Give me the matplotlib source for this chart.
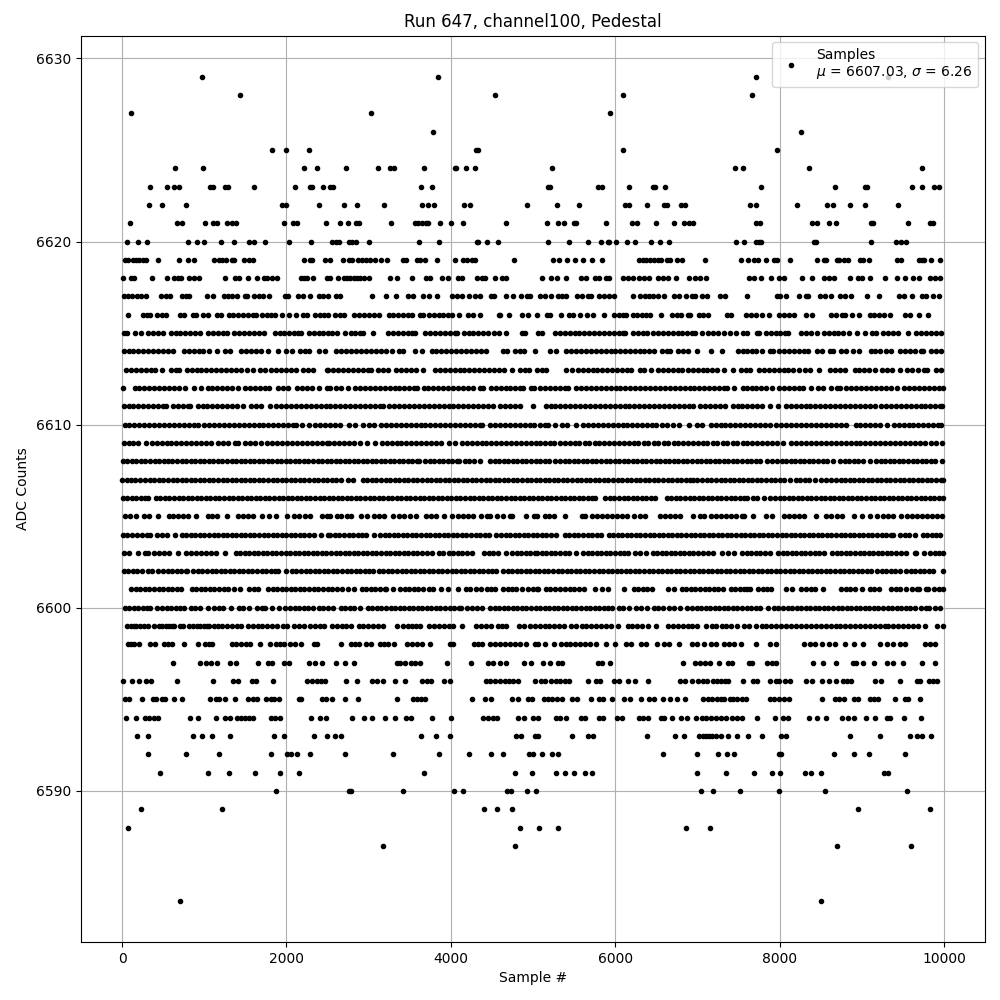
import matplotlib
matplotlib.use("Agg")
import matplotlib.pyplot as plt

title = "Run 647, channel100, Pedestal"
xlabel = "Sample #"
ylabel = "ADC Counts"
legend_label = "Samples\n$\\mu$ = 6607.03, $\\sigma$ = 6.26"

s6629 = [974, 3848, 7716, 9315]
s6628 = [1435, 4537, 6091, 7667]
s6627 = [113, 3034, 5934]
s6626 = [3786, 8262]
s6625 = [1822, 1992, 2272, 4310, 4330, 6091, 7970]
s6624 = [646, 986, 2210, 2367, 2719, 3119, 3260, 3313, 3676, 4052, 4068, 4186, 4295, 5230, 7460, 7558, 8358, 9727]
s6623 = [343, 549, 634, 687, 1067, 1107, 1248, 1289, 1604, 2100, 2290, 2315, 2440, 2533, 2570, 3640, 3773, 5182, 5210, 5792, 5840, 6164, 6463, 6487, 6600, 7776, 8672, 9033, 9065, 9606, 9727, 9880, 9937]
s6622 = [331, 489, 780, 1947, 1989, 2393, 2695, 2854, 3192, 3652, 3717, 3798, 4161, 4234, 4925, 5291, 5558, 6124, 6172, 6382, 6596, 6629, 6798, 6847, 7643, 7707, 8212, 8576, 8650, 8855, 9037, 9436]
s6621 = [101, 671, 727, 1010, 1107, 1151, 1277, 1337, 1386, 1972, 2077, 2125, 2477, 2646, 2743, 2848, 2881, 3277, 3563, 3604, 3644, 3693, 3717, 3863, 4004, 4149, 4670, 5170, 5303, 5376, 5497, 5517, 5885, 6200, 6265, 6491, 6709, 6831, 6895, 6952, 7717, 7757, 8394, 8459, 8600, 8685, 9113, 9137, 9560, 9830, 9867]
s6620 = [65, 198, 307, 804, 909, 998, 1200, 1362, 1544, 1604, 1738, 2029, 2296, 2549, 2598, 2638, 2755, 2796, 2840, 3000, 3618, 3861, 4313, 4335, 4440, 4573, 5182, 5437, 5667, 5825, 5909, 5930, 6015, 6144, 6237, 6431, 6540, 6649, 7473, 7570, 7717, 7750, 7774, 8414, 8447, 9109, 9412, 9473, 9533]
s6619 = [40, 69, 129, 170, 210, 259, 291, 441, 695, 796, 877, 1119, 1180, 1221, 1261, 1334, 1362, 1484, 1544, 1597, 2211, 2284, 2312, 2474, 2527, 2685, 2757, 2798, 2866, 2919, 2967, 3020, 3077, 3153, 3222, 3416, 3457, 3586, 3626, 3687, 3837, 4055, 4152, 4193, 4253, 4294, 4771, 5243, 5316, 5412, 5505, 5606, 5716, 5837, 6294, 6335, 6375, 6423, 6476, 6516, 6557, 6625, 6670, 6751, 6811, 7097, 7535, 7620, 7693, 7741, 7838, 7931, 7963, 8132, 8455, 8536, 8568, 8697, 8717, 8786, 8826, 8984, 9020, 9089, 9432, 9473, 9695, 9727, 9756, 9836, 9957]
s6618 = [8, 109, 150, 368, 550, 635, 675, 716, 817, 877, 938, 1253, 1374, 1423, 1532, 1645, 1726, 1766, 1827, 1880, 2171, 2212, 2252, 2321, 2494, 2535, 2624, 2697, 2737, 2778, 2818, 2858, 2899, 2939, 3000, 3255, 3340, 3533, 3700, 3748, 3889, 3970, 4092, 4132, 4313, 4374, 4415, 4540, 4625, 4665, 5110, 5223, 5291, 5396, 5586, 5647, 5748, 5801, 5889, 5930, 6091, 6152, 6213, 6285, 6354, 6415, 6516, 6577, 6637, 6738, 6899, 6968, 7028, 7101, 7627, 7687, 7776, 7897, 7990, 8051, 8273, 8394, 8536, 8597, 8665, 8861, 8954, 9000, 9103, 9285, 9427, 9528, 9629, 9690, 9831, 9892, 9957]
s6617 = [28, 75, 125, 180, 235, 290, 475, 530, 584, 725, 780, 819, 1030, 1102, 1235, 1290, 1340, 1398, 1500, 1522, 1607, 1660, 1720, 1789, 1987, 2015, 2140, 2200, 2290, 2395, 2450, 2505, 2600, 2650, 3040, 3206, 3327, 3473, 3540, 3660, 3740, 3836, 4010, 4070, 4130, 4225, 4295, 4353, 4486, 4530, 4675, 4760, 4850, 4930, 4960, 5085, 5150, 5220, 5300, 5350, 5395, 5540, 5595, 5670, 5710, 5805, 5860, 5920, 5980, 6213, 6305, 6360, 6410, 6465, 6519, 6590, 6710, 6770, 6860, 6940, 6972, 7050, 7113, 7277, 7340, 7608, 7970, 8010, 8072, 8230, 8320, 8340, 8490, 8550, 8620, 8730, 8790, 8872, 9064, 9209, 9450, 9510, 9610, 9735, 9780, 9870, 9940]
s6616 = [69, 250, 300, 340, 420, 480, 535, 700, 750, 860, 900, 990, 1045, 1160, 1200, 1295, 1350, 1410, 1470, 1530, 1590, 1635, 1705, 1760, 1810, 1860, 1950, 2030, 2114, 2205, 2255, 2350, 2405, 2460, 2510, 2585, 2650, 2705, 2820, 2880, 2940, 3000, 3060, 3130, 3245, 3300, 3360, 3420, 3480, 3528, 3630, 3665, 3740, 3795, 3850, 3910, 3960, 4012, 4103, 4204, 4275, 4355, 4580, 4600, 4710, 4870, 4940, 5050, 5165, 5205, 5340, 5435, 5490, 5575, 5660, 5730, 5858, 5990, 6045, 6100, 6130, 6215, 6270, 6330, 6380, 6418, 6553, 6690, 6750, 6798, 6885, 6915, 7018, 7070, 7125, 7365, 7405, 7595, 7650, 7710, 7780, 7875, 7995, 8050, 8110, 8175, 8320, 8393, 8630, 8690, 8760, 8800, 8885, 8960, 9095, 9150, 9210, 9268, 9343, 9530, 9590, 9690, 9800]
s6615 = [19, 65, 160, 230, 320, 380, 440, 500, 590, 650, 710, 770, 830, 890, 950, 1040, 1110, 1170, 1230, 1280, 1360, 1420, 1480, 1540, 1600, 1660, 1728, 1860, 1920, 1975, 2035, 2090, 2140, 2180, 2270, 2330, 2390, 2450, 2505, 2560, 2620, 2710, 2780, 2828, 2900, 2937, 3050, 3235, 3295, 3355, 3415, 3475, 3530, 3568, 3690, 3750, 3810, 3870, 3930, 3990, 4050, 4080, 4155, 4215, 4275, 4335, 4395, 4453, 4525, 4590, 4676, 4860, 4898, 5062, 5105, 5265, 5325, 5385, 5445, 5505, 5560, 5620, 5678, 5746, 5806, 5866, 5926, 5986, 6046, 6100, 6123, 6215, 6275, 6335, 6386, 6458, 6518, 6578, 6638, 6698, 6758, 6818, 6878, 6940, 6972, 7052, 7126, 7194, 7254, 7328, 7396, 7465, 7560, 7600, 7720, 7752, 7832, 7890, 7950, 8010, 8070, 8104, 8265, 8325, 8385, 8460, 8536, 8596, 8656, 8716, 8771, 8840, 8944, 9042, 9126, 9175, 9260, 9320, 9380, 9438, 9561, 9660, 9720, 9780, 9840, 9900, 9964]
s6614 = [18, 78, 138, 198, 258, 318, 378, 438, 498, 558, 617, 757, 817, 877, 937, 980, 1059, 1160, 1251, 1312, 1449, 1509, 1569, 1629, 1689, 1777, 1896, 1995, 2068, 2160, 2220, 2274, 2400, 2468, 2605, 2665, 2725, 2785, 2845, 2905, 2965, 3025, 3085, 3145, 3212, 3278, 3373, 3414, 3563, 3645, 3765, 3825, 3885, 3945, 4005, 4065, 4125, 4185, 4245, 4305, 4365, 4425, 4640, 4688, 4780, 4840, 4890, 5021, 5205, 5274, 5403, 5463, 5523, 5583, 5643, 5703, 5763, 5823, 5883, 5943, 6003, 6063, 6123, 6183, 6243, 6303, 6345, 6413, 6467, 6567, 6625, 6669, 6769, 6829, 6883, 6994, 7164, 7297, 7489, 7549, 7598, 7658, 7718, 7789, 7881, 7922, 7994, 8054, 8114, 8174, 8234, 8294, 8347, 8455, 8520, 8609, 8650, 8742, 8812, 8890, 8967, 9106, 9166, 9226, 9290, 9357, 9470, 9530, 9590, 9650, 9720, 9750, 9842, 9902, 9965]
s6613 = [46, 106, 166, 226, 286, 346, 406, 491, 592, 652, 697, 786, 846, 906, 966, 1026, 1086, 1146, 1206, 1266, 1326, 1386, 1446, 1514, 1592, 1675, 1737, 1817, 1877, 1937, 1997, 2057, 2113, 2205, 2265, 2323, 2490, 2510, 2570, 2630, 2690, 2750, 2810, 2870, 2930, 2990, 3030, 3119, 3179, 3232, 3333, 3393, 3453, 3513, 3573, 3657, 3806, 3866, 3926, 3986, 4046, 4106, 4166, 4226, 4286, 4346, 4406, 4466, 4526, 4586, 4647, 4750, 4841, 4901, 4951, 5045, 5111, 5161, 5407, 5476, 5544, 5604, 5664, 5724, 5784, 5844, 5904, 5964, 6024, 6084, 6144, 6196, 6296, 6356, 6434, 6519, 6579, 6639, 6699, 6759, 6810, 6882, 6942, 7002, 7062, 7122, 7182, 7235, 7325, 7431, 7525, 7585, 7639, 7748, 7808, 7868, 7928, 7988, 8048, 8108, 8168, 8233, 8305, 8365, 8480, 8609, 8669, 8729, 8800, 8912, 8972, 9032, 9092, 9163, 9248, 9308, 9368, 9463, 9551, 9611, 9681, 9761, 9794, 9902, 9965]
s6612 = [16, 151, 211, 271, 331, 391, 451, 511, 571, 631, 691, 766, 879, 956, 1040, 1100, 1160, 1220, 1280, 1340, 1413, 1493, 1553, 1613, 1673, 1733, 1789, 1898, 1958, 2015, 2128, 2188, 2248, 2308, 2396, 2490, 2533, 2605, 2666, 2750, 2835, 2895, 2955, 3015, 3075, 3135, 3195, 3255, 3315, 3375, 3435, 3495, 3555, 3584, 3668, 3728, 3788, 3848, 3908, 3968, 4028, 4088, 4148, 4208, 4271, 4352, 4389, 4485, 4545, 4605, 4665, 4725, 4785, 4845, 4882, 4978, 5015, 5083, 5143, 5203, 5263, 5323, 5383, 5428, 5524, 5584, 5644, 5704, 5764, 5824, 5884, 5944, 6004, 6064, 6124, 6184, 6244, 6304, 6364, 6424, 6484, 6544, 6604, 6664, 6724, 6784, 6844, 6904, 6964, 7024, 7084, 7144, 7204, 7264, 7324, 7356, 7447, 7550, 7600, 7658, 7718, 7778, 7838, 7902, 7990, 8050, 8110, 8170, 8230, 8290, 8387, 8467, 8527, 8621, 8698, 8731, 8811, 8871, 8931, 8991, 9051, 9111, 9171, 9231, 9291, 9351, 9430, 9518, 9578, 9638, 9698, 9758, 9818, 9878, 9938, 9990]
s6611 = [18, 78, 138, 198, 258, 318, 378, 438, 498, 536, 616, 676, 736, 796, 827, 919, 979, 1039, 1099, 1159, 1219, 1279, 1339, 1399, 1474, 1574, 1634, 1694, 1797, 1877, 1937, 1997, 2057, 2117, 2177, 2237, 2297, 2357, 2417, 2477, 2535, 2595, 2655, 2715, 2775, 2835, 2895, 2955, 3015, 3075, 3135, 3172, 3252, 3312, 3372, 3432, 3492, 3552, 3612, 3672, 3732, 3792, 3852, 3912, 3972, 4032, 4092, 4152, 4212, 4272, 4332, 4392, 4452, 4514, 4598, 4658, 4718, 4778, 4842, 5001, 5154, 5213, 5273, 5333, 5393, 5453, 5513, 5573, 5633, 5693, 5753, 5813, 5873, 5933, 5993, 6053, 6113, 6173, 6233, 6293, 6353, 6413, 6473, 6533, 6593, 6653, 6713, 6773, 6833, 6893, 6952, 7032, 7092, 7152, 7212, 7272, 7336, 7428, 7488, 7548, 7608, 7668, 7728, 7789, 7881, 7975, 8075, 8135, 8195, 8255, 8315, 8375, 8435, 8495, 8555, 8615, 8675, 8735, 8795, 8855, 8915, 8975, 9035, 9095, 9155, 9235, 9295, 9355, 9415, 9475, 9535, 9595, 9655, 9715, 9775, 9835, 9895, 9955, 9980]
s6610 = [30, 90, 150, 210, 270, 330, 390, 450, 510, 570, 630, 690, 750, 810, 870, 928, 1000, 1060, 1120, 1180, 1240, 1300, 1360, 1420, 1480, 1540, 1600, 1660, 1720, 1780, 1840, 1900, 1960, 2020, 2080, 2113, 2193, 2270, 2350, 2410, 2470, 2535, 2595, 2655, 2755, 2835, 2929, 3009, 3071, 3151, 3211, 3271, 3331, 3391, 3451, 3511, 3571, 3631, 3691, 3751, 3811, 3871, 3931, 3991, 4051, 4111, 4171, 4231, 4291, 4351, 4385, 4477, 4537, 4597, 4657, 4717, 4777, 4837, 4897, 4957, 5017, 5081, 5141, 5185, 5268, 5354, 5414, 5525, 5609, 5669, 5729, 5789, 5849, 5909, 5969, 6029, 6089, 6149, 6209, 6269, 6329, 6389, 6449, 6495, 6567, 6628, 6699, 6772, 6893, 6992, 7053, 7161, 7221, 7281, 7341, 7401, 7461, 7521, 7581, 7640, 7700, 7760, 7820, 7882, 7962, 8022, 8082, 8142, 8202, 8262, 8322, 8382, 8442, 8502, 8562, 8622, 8682, 8742, 8812, 8924, 8984, 9044, 9104, 9164, 9224, 9309, 9389, 9449, 9509, 9569, 9629, 9689, 9749, 9809, 9869, 9929, 9964]
s6609 = [18, 78, 138, 198, 289, 361, 421, 481, 541, 601, 661, 721, 781, 841, 901, 961, 1021, 1078, 1170, 1230, 1292, 1372, 1413, 1501, 1561, 1621, 1696, 1768, 1828, 1888, 1948, 2008, 2068, 2128, 2188, 2248, 2308, 2368, 2428, 2488, 2520, 2580, 2640, 2700, 2760, 2820, 2889, 2981, 3083, 3159, 3219, 3279, 3339, 3399, 3459, 3519, 3579, 3639, 3699, 3759, 3819, 3879, 3972, 4051, 4133, 4193, 4253, 4313, 4373, 4433, 4493, 4553, 4613, 4673, 4733, 4793, 4853, 4913, 4973, 5033, 5090, 5142, 5207, 5261, 5329, 5383, 5447, 5508, 5561, 5628, 5682, 5749, 5802, 5868, 5921, 5988, 6041, 6109, 6163, 6228, 6281, 6349, 6402, 6468, 6522, 6588, 6641, 6709, 6762, 6829, 6881, 6948, 7001, 7069, 7122, 7188, 7241, 7309, 7361, 7428, 7482, 7549, 7602, 7665, 7725, 7785, 7845, 7905, 7963, 8045, 8144, 8204, 8264, 8324, 8384, 8444, 8504, 8564, 8624, 8684, 8744, 8804, 8864, 8924, 8984, 9044, 9104, 9164, 9224, 9284, 9344, 9404, 9464, 9524, 9584, 9644, 9704, 9770, 9842, 9902, 9976]
s6608 = [5, 61, 118, 172, 231, 284, 342, 397, 451, 508, 563, 612, 671, 728, 779, 836, 893, 947, 1002, 1058, 1112, 1169, 1221, 1278, 1334, 1386, 1443, 1498, 1552, 1609, 1661, 1718, 1772, 1829, 1881, 1938, 1992, 2047, 2103, 2158, 2213, 2268, 2322, 2379, 2431, 2488, 2542, 2598, 2653, 2708, 2763, 2818, 2872, 2929, 2981, 3038, 3092, 3147, 3203, 3258, 3312, 3368, 3421, 3478, 3532, 3587, 3618, 3685, 3741, 3796, 3852, 3907, 3962, 4018, 4073, 4100, 4170, 4226, 4281, 4360, 4477, 4532, 4588, 4643, 4698, 4754, 4809, 4864, 4920, 4975, 5030, 5085, 5141, 5193, 5273, 5328, 5384, 5439, 5494, 5550, 5605, 5661, 5716, 5771, 5827, 5882, 5937, 5993, 6048, 6103, 6159, 6214, 6269, 6325, 6380, 6436, 6491, 6546, 6602, 6657, 6712, 6768, 6823, 6878, 6934, 6989, 7044, 7100, 7155, 7211, 7266, 7321, 7377, 7432, 7487, 7543, 7598, 7653, 7709, 7764, 7841, 7913, 7968, 8024, 8079, 8134, 8190, 8245, 8300, 8356, 8411, 8466, 8522, 8577, 8650, 8738, 8793, 8849, 8904, 8959, 9015, 9103, 9175, 9230, 9286, 9341, 9396, 9452, 9507, 9562, 9618, 9673, 9729, 9784, 9839, 9895, 9978]
s6607 = [0, 54, 109, 163, 220, 282, 337, 392, 448, 503, 558, 614, 669, 724, 780, 835, 890, 946, 1001, 1056, 1112, 1167, 1222, 1278, 1333, 1388, 1444, 1499, 1554, 1610, 1665, 1720, 1776, 1831, 1886, 1942, 1997, 2052, 2108, 2163, 2218, 2274, 2329, 2384, 2440, 2495, 2550, 2606, 2658, 2745, 2815, 2929, 2984, 3040, 3095, 3150, 3206, 3261, 3316, 3372, 3427, 3482, 3538, 3593, 3648, 3704, 3759, 3814, 3870, 3925, 3980, 4036, 4091, 4146, 4202, 4257, 4312, 4368, 4423, 4478, 4534, 4589, 4644, 4700, 4755, 4810, 4866, 4921, 4976, 5032, 5087, 5142, 5198, 5253, 5308, 5364, 5419, 5474, 5530, 5585, 5640, 5696, 5751, 5806, 5862, 5917, 5972, 6028, 6083, 6138, 6194, 6249, 6304, 6360, 6415, 6470, 6526, 6581, 6636, 6692, 6747, 6802, 6858, 6913, 6944, 7000, 7060, 7115, 7170, 7226, 7281, 7336, 7392, 7447, 7502, 7558, 7613, 7668, 7724, 7779, 7834, 7890, 7945, 8000, 8056, 8124, 8196, 8252, 8307, 8362, 8427, 8500, 8570, 8630, 8685, 8741, 8796, 8851, 8907, 8962, 9017, 9073, 9128, 9183, 9239, 9294, 9349, 9405, 9460, 9515, 9571, 9626, 9681, 9737, 9792, 9847, 9903, 9958, 9984]
s6606 = [5, 61, 116, 172, 227, 282, 321, 410, 465, 521, 576, 631, 687, 742, 797, 853, 908, 963, 1019, 1074, 1129, 1185, 1240, 1295, 1351, 1406, 1461, 1517, 1572, 1627, 1683, 1738, 1793, 1849, 1904, 1959, 2015, 2070, 2125, 2181, 2236, 2291, 2347, 2402, 2457, 2513, 2568, 2623, 2679, 2734, 2789, 2845, 2900, 2955, 3011, 3066, 3121, 3177, 3232, 3287, 3343, 3398, 3453, 3509, 3564, 3619, 3675, 3730, 3785, 3841, 3896, 3951, 4007, 4062, 4117, 4173, 4228, 4283, 4339, 4394, 4449, 4505, 4560, 4615, 4671, 4726, 4781, 4837, 4892, 4947, 5003, 5058, 5113, 5169, 5224, 5279, 5335, 5390, 5445, 5501, 5556, 5611, 5667, 5722, 5759, 5880, 5935, 5991, 6046, 6101, 6157, 6212, 6267, 6323, 6378, 6433, 6479, 6628, 6684, 6739, 6794, 6850, 6905, 6960, 7016, 7071, 7126, 7182, 7237, 7292, 7348, 7403, 7458, 7514, 7569, 7600, 7671, 7726, 7813, 7889, 7944, 8000, 8055, 8110, 8166, 8221, 8276, 8332, 8387, 8442, 8498, 8553, 8608, 8664, 8719, 8774, 8830, 8885, 8940, 8996, 9051, 9106, 9162, 9217, 9272, 9328, 9383, 9438, 9494, 9549, 9604, 9660, 9715, 9770, 9826, 9881, 9936, 9984]
s6605 = [38, 98, 172, 272, 332, 435, 566, 624, 684, 744, 804, 900, 1040, 1100, 1160, 1271, 1412, 1472, 1532, 1592, 1708, 1792, 1878, 2005, 2092, 2152, 2221, 2284, 2435, 2495, 2533, 2617, 2666, 2734, 2788, 2908, 2978, 3062, 3122, 3182, 3293, 3373, 3433, 3503, 3580, 3697, 3757, 3817, 3920, 4010, 4093, 4153, 4213, 4273, 4369, 4445, 4482, 4564, 4637, 4720, 4740, 4912, 5011, 5052, 5140, 5200, 5260, 5387, 5597, 5638, 5718, 5778, 5838, 5898, 5958, 6018, 6078, 6138, 6228, 6304, 6358, 6547, 6607, 6667, 6727, 6787, 6944, 7032, 7085, 7165, 7225, 7285, 7345, 7405, 7465, 7546, 7570, 7681, 7840, 7902, 8051, 8111, 8171, 8231, 8291, 8444, 8560, 8621, 8702, 8759, 8900, 9001, 9094, 9188, 9260, 9320, 9380, 9479, 9551, 9611, 9671, 9731, 9791, 9851, 9911, 9976]
s6604 = [5, 65, 125, 185, 245, 305, 342, 422, 482, 542, 645, 725, 781, 836, 891, 947, 1002, 1057, 1113, 1168, 1223, 1279, 1334, 1389, 1445, 1500, 1555, 1611, 1666, 1721, 1777, 1832, 1887, 1943, 1998, 2053, 2109, 2164, 2219, 2275, 2335, 2415, 2505, 2535, 2590, 2645, 2701, 2756, 2811, 2867, 2922, 2962, 3060, 3139, 3194, 3250, 3305, 3360, 3416, 3471, 3526, 3582, 3637, 3692, 3748, 3803, 3858, 3914, 3969, 4024, 4080, 4135, 4190, 4246, 4301, 4356, 4412, 4465, 4554, 4609, 4665, 4720, 4775, 4831, 4886, 4941, 4997, 5052, 5107, 5163, 5218, 5282, 5387, 5442, 5498, 5553, 5608, 5664, 5719, 5774, 5828, 5920, 5975, 6031, 6086, 6141, 6197, 6252, 6307, 6363, 6418, 6473, 6529, 6584, 6639, 6695, 6750, 6805, 6861, 6916, 6971, 7027, 7082, 7137, 7193, 7248, 7303, 7359, 7414, 7469, 7525, 7580, 7635, 7691, 7746, 7801, 7857, 7912, 7967, 8023, 8078, 8133, 8189, 8244, 8299, 8355, 8410, 8465, 8521, 8576, 8631, 8687, 8742, 8797, 8853, 8908, 8963, 9019, 9074, 9129, 9185, 9240, 9295, 9351, 9378, 9466, 9521, 9577, 9648, 9741, 9796, 9852, 9907, 9952]
s6603 = [18, 79, 198, 280, 310, 394, 454, 514, 574, 685, 782, 842, 902, 962, 1022, 1082, 1142, 1251, 1380, 1435, 1491, 1546, 1601, 1657, 1712, 1767, 1823, 1878, 1933, 1989, 2044, 2099, 2155, 2210, 2265, 2321, 2376, 2431, 2487, 2542, 2597, 2653, 2708, 2763, 2819, 2874, 2929, 2985, 3040, 3095, 3151, 3206, 3261, 3317, 3372, 3427, 3483, 3538, 3593, 3649, 3704, 3770, 3858, 3900, 3972, 4027, 4083, 4138, 4193, 4263, 4404, 4459, 4515, 4570, 4668, 4748, 4803, 4859, 4914, 4969, 5025, 5052, 5107, 5163, 5218, 5273, 5329, 5384, 5439, 5525, 5609, 5664, 5720, 5775, 5830, 5886, 5941, 5996, 6052, 6107, 6155, 6244, 6299, 6374, 6454, 6509, 6565, 6620, 6675, 6731, 6786, 6841, 6897, 6952, 7007, 7063, 7126, 7184, 7295, 7377, 7447, 7537, 7599, 7654, 7710, 7765, 7820, 7882, 7982, 8037, 8093, 8148, 8203, 8259, 8314, 8369, 8425, 8480, 8540, 8641, 8696, 8752, 8807, 8862, 8918, 8973, 9028, 9084, 9139, 9194, 9250, 9305, 9360, 9416, 9471, 9539, 9648, 9660, 9751, 9830, 9885, 9941, 9992]
s6602 = [18, 74, 129, 184, 240, 321, 362, 442, 497, 553, 608, 663, 719, 774, 795, 867, 922, 978, 1033, 1088, 1144, 1199, 1254, 1310, 1365, 1420, 1476, 1531, 1586, 1642, 1697, 1752, 1808, 1863, 1898, 2000, 2067, 2122, 2178, 2233, 2288, 2344, 2399, 2454, 2510, 2565, 2620, 2676, 2731, 2786, 2842, 2897, 2952, 3008, 3050, 3123, 3178, 3234, 3289, 3344, 3400, 3455, 3510, 3566, 3621, 3676, 3732, 3787, 3842, 3898, 3953, 4008, 4064, 4119, 4174, 4230, 4285, 4340, 4396, 4451, 4506, 4554, 4635, 4690, 4746, 4801, 4856, 4912, 4967, 5022, 5078, 5133, 5188, 5244, 5299, 5354, 5410, 5465, 5520, 5576, 5631, 5686, 5742, 5797, 5852, 5908, 5963, 6018, 6074, 6129, 6184, 6240, 6295, 6350, 6406, 6461, 6516, 6572, 6627, 6682, 6738, 6793, 6848, 6904, 6959, 7014, 7070, 7125, 7180, 7236, 7291, 7346, 7402, 7457, 7512, 7568, 7623, 7678, 7734, 7789, 7844, 7900, 7955, 8010, 8066, 8121, 8176, 8232, 8287, 8342, 8398, 8453, 8508, 8564, 8619, 8674, 8730, 8785, 8840, 8896, 8951, 9006, 9062, 9107, 9187, 9242, 9298, 9353, 9408, 9463, 9539, 9594, 9650, 9705, 9760, 9816, 9871, 9986]
s6601 = [111, 166, 222, 277, 332, 388, 443, 498, 554, 609, 664, 718, 847, 902, 958, 1013, 1068, 1124, 1179, 1234, 1290, 1361, 1436, 1546, 1601, 1648, 1776, 1831, 1887, 1942, 1997, 2053, 2108, 2163, 2219, 2274, 2329, 2385, 2440, 2505, 2560, 2615, 2674, 2750, 2820, 2916, 2971, 3027, 3082, 3137, 3193, 3212, 3300, 3385, 3440, 3496, 3551, 3606, 3657, 3729, 3778, 3880, 3960, 4091, 4190, 4235, 4311, 4364, 4437, 4492, 4534, 4635, 4690, 4746, 4789, 4870, 4942, 4998, 5052, 5060, 5152, 5207, 5262, 5334, 5389, 5445, 5500, 5555, 5626, 5759, 5840, 5910, 6104, 6223, 6278, 6334, 6389, 6446, 6648, 6721, 6810, 6865, 6921, 6976, 7031, 7087, 7142, 7197, 7253, 7308, 7404, 7459, 7515, 7570, 7599, 7639, 7739, 7794, 7850, 7890, 8083, 8153, 8265, 8320, 8376, 8431, 8528, 8750, 8805, 8861, 8916, 9001, 9094, 9149, 9204, 9357, 9412, 9468, 9539, 9611, 9666, 9701, 9781, 9810, 9882, 9937, 9984]
s6600 = [30, 85, 141, 196, 251, 307, 334, 430, 485, 541, 596, 651, 707, 754, 838, 893, 949, 1041, 1121, 1176, 1232, 1320, 1421, 1476, 1547, 1643, 1698, 1737, 1825, 1906, 1987, 2042, 2098, 2153, 2208, 2264, 2323, 2395, 2450, 2505, 2565, 2658, 2713, 2769, 2824, 2897, 2989, 3044, 3100, 3155, 3210, 3266, 3321, 3376, 3432, 3487, 3542, 3598, 3653, 3708, 3764, 3819, 3874, 3930, 3985, 4040, 4096, 4122, 4202, 4257, 4313, 4385, 4477, 4532, 4588, 4643, 4698, 4754, 4809, 4864, 4920, 4975, 5030, 5086, 5141, 5196, 5252, 5307, 5362, 5418, 5473, 5528, 5584, 5639, 5694, 5750, 5805, 5860, 5916, 5961, 6041, 6097, 6163, 6256, 6311, 6386, 6466, 6521, 6576, 6656, 6711, 6782, 6878, 6933, 6989, 7044, 7099, 7155, 7210, 7265, 7321, 7376, 7431, 7487, 7542, 7598, 7653, 7708, 7764, 7853, 7930, 7985, 8041, 8096, 8151, 8207, 8262, 8317, 8373, 8428, 8483, 8539, 8594, 8649, 8705, 8760, 8815, 8871, 8926, 8981, 9037, 9092, 9147, 9203, 9258, 9313, 9369, 9424, 9479, 9535, 9590, 9648, 9721, 9776, 9815, 9895, 9952]
s6599 = [60, 105, 150, 170, 220, 270, 310, 390, 453, 490, 530, 570, 610, 630, 700, 740, 820, 860, 910, 950, 1000, 1030, 1060, 1120, 1170, 1220, 1277, 1340, 1400, 1450, 1530, 1590, 1650, 1700, 1760, 1820, 1880, 1960, 2010, 2090, 2150, 2210, 2283, 2350, 2410, 2460, 2560, 2620, 2680, 2730, 2790, 2880, 2930, 2990, 3050, 3110, 3170, 3350, 3420, 3480, 3530, 3580, 3630, 3740, 3800, 3860, 3920, 3980, 4030, 4140, 4310, 4370, 4430, 4490, 4570, 4620, 4670, 4830, 4890, 4960, 5020, 5080, 5140, 5200, 5260, 5320, 5380, 5465, 5526, 5590, 5650, 5710, 5770, 5830, 5890, 5950, 6031, 6152, 6210, 6270, 6330, 6400, 6496, 6637, 6700, 6760, 6820, 6880, 6940, 7000, 7101, 7174, 7230, 7303, 7353, 7410, 7480, 7566, 7627, 7717, 7780, 7840, 7900, 7960, 8020, 8080, 8140, 8200, 8260, 8320, 8380, 8440, 8500, 8560, 8620, 8680, 8740, 8798, 8859, 8920, 8980, 9040, 9100, 9160, 9220, 9285, 9318, 9380, 9440, 9500, 9560, 9620, 9680, 9763, 9913, 9993]
s6598 = [69, 109, 150, 210, 344, 400, 513, 554, 602, 758, 925, 1006, 1058, 1099, 1333, 1382, 1442, 1511, 1552, 1677, 1794, 1875, 1927, 1967, 2048, 2109, 2178, 2331, 2371, 2658, 2784, 2838, 2878, 2964, 3026, 3139, 3188, 3240, 3313, 3471, 3524, 3584, 3645, 3749, 3988, 4028, 4279, 4331, 4384, 4481, 4533, 4594, 4654, 4715, 4776, 4836, 4917, 5021, 5061, 5142, 5251, 5344, 5396, 5445, 5505, 5566, 5627, 5687, 5768, 5889, 6002, 6132, 6192, 6313, 6374, 6503, 6596, 6657, 6778, 6940, 7000, 7081, 7162, 7222, 7323, 7384, 7445, 7525, 7707, 7889, 7950, 8293, 8374, 8434, 8515, 8596, 8677, 8798, 8899, 9012, 9222, 9303, 9384, 9465, 9525, 9768, 9829, 9889]
s6597 = [622, 945, 1018, 1079, 1151, 1309, 1382, 1652, 1778, 1818, 1967, 2036, 2279, 2351, 2432, 2598, 2707, 2816, 3341, 3381, 3442, 3511, 3563, 3624, 3955, 4246, 4452, 4513, 4594, 4666, 4896, 4977, 5122, 5211, 5303, 5352, 5788, 5841, 5934, 6819, 6973, 7028, 7089, 7151, 7267, 7372, 7424, 7627, 7667, 7849, 7909, 7958, 8406, 8531, 8685, 8887, 8928, 9017, 9146, 9308, 9382, 9500, 9727, 9885]
s6596 = [16, 117, 210, 287, 351, 671, 1107, 1345, 1410, 1584, 1628, 1834, 2250, 2311, 2371, 2420, 2472, 2723, 2864, 3038, 3099, 3180, 3325, 3446, 3652, 3705, 3753, 3915, 3987, 4424, 4473, 4533, 4594, 4654, 4707, 4755, 4816, 5021, 5101, 5142, 5223, 5275, 5332, 5384, 5441, 5663, 5768, 5816, 5990, 6051, 6160, 6241, 6394, 6786, 6847, 6928, 7009, 7062, 7115, 7195, 7243, 7291, 7336, 7376, 7554, 7675, 7719, 7885, 7950, 7998, 8063, 8132, 8326, 8394, 8516, 8604, 8689, 8766, 8818, 8871, 9162, 9231, 9468, 9667, 9711, 9820, 9869, 9921]
s6595 = [36, 85, 246, 372, 412, 481, 521, 634, 731, 1067, 1139, 1180, 1252, 1374, 1531, 1592, 1636, 1757, 1806, 1854, 1907, 2149, 2182, 2432, 2481, 2549, 2707, 2876, 3345, 3535, 3583, 3632, 3684, 4258, 4412, 4493, 4747, 4816, 4937, 4985, 5130, 5182, 5235, 5291, 5356, 5477, 5534, 5703, 5808, 5857, 5962, 6103, 6180, 6310, 6407, 6467, 6576, 6661, 6746, 6843, 7062, 7130, 7182, 7235, 7284, 7323, 7396, 7434, 7485, 7546, 7586, 7881, 7930, 7990, 8051, 8120, 8516, 8677, 8725, 8786, 8911, 8952, 9105, 9146, 9202, 9404, 9525, 9566, 9707]
s6594 = [53, 174, 283, 331, 384, 440, 828, 925, 1143, 1252, 1313, 1394, 1442, 1491, 1543, 1596, 1810, 1866, 1927, 2303, 2404, 2477, 2792, 2949, 3046, 3204, 3317, 3458, 3511, 3773, 4004, 4392, 4452, 4513, 4565, 4812, 4884, 4997, 5061, 5275, 5332, 5396, 5586, 5627, 5808, 5857, 6019, 6079, 6285, 6342, 6398, 6556, 6596, 6690, 6795, 6879, 6988, 7053, 7102, 7163, 7223, 7284, 7352, 7425, 7485, 7546, 7723, 7942, 8039, 8099, 8360, 8455, 8564, 8758, 8838, 8899, 9049, 9157, 9303, 9347, 9513, 9715]
s6593 = [186, 319, 857, 974, 1095, 1313, 1846, 1967, 2331, 2489, 2586, 2658, 3640, 3822, 3992, 4791, 4852, 5026, 5061, 5473, 5667, 5728, 6382, 6722, 6831, 7021, 7062, 7102, 7143, 7183, 7232, 7284, 7377, 7482, 7620, 7789, 8018, 8079, 8855, 9227, 9582, 9667, 9727, 9836]
s6592 = [319, 780, 1180, 1810, 2012, 2060, 2129, 2283, 2707, 3301, 3858, 4222, 4489, 4634, 4949, 4997, 5109, 5235, 5303, 6576, 7000, 7255, 7364, 7449, 7990, 8018, 8661, 8903, 9085, 9521]
s6591 = [465, 1046, 1301, 1616, 1919, 2149, 3676, 4779, 4985, 5283, 5392, 5501, 5631, 5716, 7000, 7352, 7691, 7909, 8006, 8309, 8382, 8503, 9267, 9323]
s6590 = [1871, 2755, 2784, 3422, 4040, 4149, 4682, 4727, 4929, 5038, 7049, 7194, 7521, 7994, 8552, 9545]
s6589 = [234, 1216, 4404, 4561, 4743, 8952, 9824]
s6588 = [77, 4840, 5073, 5303, 6855, 7158]
s6587 = [3180, 4779, 8697, 9594]
s6584 = [707, 8503]

levels = [6629, 6628, 6627, 6626, 6625, 6624, 6623, 6622, 6621, 6620, 6619, 6618, 6617, 6616, 6615,
          6614, 6613, 6612, 6611, 6610, 6609, 6608, 6607, 6606, 6605, 6604, 6603, 6602, 6601, 6600,
          6599, 6598, 6597, 6596, 6595, 6594, 6593, 6592, 6591, 6590, 6589, 6588, 6587, 6584]
samples = [s6629, s6628, s6627, s6626, s6625, s6624, s6623, s6622, s6621, s6620, s6619, s6618, s6617, s6616, s6615,
           s6614, s6613, s6612, s6611, s6610, s6609, s6608, s6607, s6606, s6605, s6604, s6603, s6602, s6601, s6600,
           s6599, s6598, s6597, s6596, s6595, s6594, s6593, s6592, s6591, s6590, s6589, s6588, s6587, s6584]

x = [s for row in samples for s in row]
y = [lev for lev, row in zip(levels, samples) for _ in row]

fig, ax = plt.subplots(figsize=(10, 10), dpi=100)
ax.plot(x, y, "k.", label=legend_label)
ax.set_xlim(-499.95, 10498.95)
ax.set_title(title)
ax.set_xlabel(xlabel)
ax.set_ylabel(ylabel)
ax.grid(True)
ax.legend(loc="upper right")
fig.subplots_adjust(left=0.081, right=0.985, top=0.9645, bottom=0.058)
fig.savefig("out.png", dpi=100)
